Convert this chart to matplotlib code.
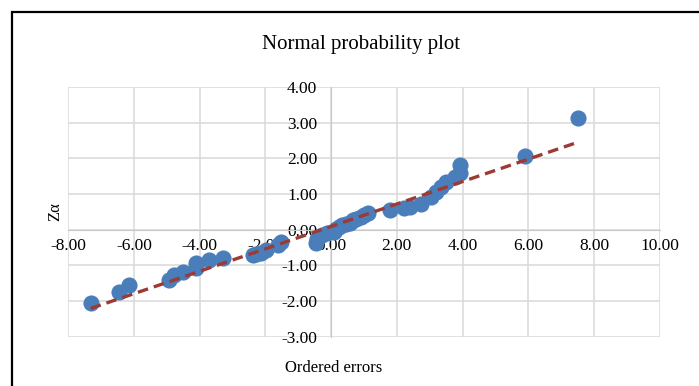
import matplotlib.pyplot as plt
from matplotlib.patches import Rectangle

plt.rcParams['font.family'] = ['Liberation Serif', 'DejaVu Serif']
plt.rcParams['axes.unicode_minus'] = False

# Ordered errors (x) vs. normal quantile Z-alpha (y)
ordered_errors = [-7.32, -6.46, -6.15, -4.93, -4.78, -4.52, -4.12, -4.10, -3.71, -3.30,
                  -2.39, -2.30, -2.13, -1.98, -1.63, -1.52, -0.46, -0.42, -0.27, -0.12,
                  0.10, 0.15, 0.25, 0.34, 0.45, 0.56, 0.66, 0.76, 0.91, 1.00,
                  1.12, 1.78, 2.23, 2.39, 2.74, 3.05, 3.20, 3.35, 3.51, 3.76,
                  3.91, 3.93, 5.91, 7.52]
z_alpha = [-2.07, -1.76, -1.55, -1.41, -1.28, -1.18, -1.08, -0.93, -0.86, -0.79,
           -0.72, -0.68, -0.64, -0.57, -0.43, -0.35, -0.37, -0.26, -0.15, -0.10,
           -0.06, 0.03, 0.08, 0.12, 0.16, 0.20, 0.26, 0.31, 0.37, 0.42,
           0.47, 0.54, 0.61, 0.65, 0.73, 0.92, 1.06, 1.20, 1.34, 1.49,
           1.60, 1.81, 2.08, 3.14]

# linear trendline end points
trend_x = [-7.32, 7.52]
trend_y = [-2.21, 2.46]

x_ticks = [-8, -6, -4, -2, 0, 2, 4, 6, 8, 10]
y_ticks = [-3, -2, -1, 0, 1, 2, 3, 4]

fig = plt.figure(figsize=(6.99, 3.86), dpi=100)
ax = fig.add_axes([0.0977, 0.128, 0.8461, 0.646])

ax.scatter(ordered_errors, z_alpha, s=135, color='#4a7ebb', zorder=3, linewidths=0)
ax.plot(trend_x, trend_y, color='#9c3a36', lw=2.4, linestyle=(0, (3.2, 1.8)), zorder=4)

ax.set_xlim(-8, 10)
ax.set_ylim(-3, 4)
ax.set_xticks(x_ticks)
ax.set_yticks(y_ticks)
ax.set_xticklabels([f'{v:.2f}' for v in x_ticks])
ax.set_yticklabels([f'{v:.2f}' for v in y_ticks])
ax.grid(True, color='#d9d9d9', lw=1.1, zorder=0)
ax.set_axisbelow(True)

for side in ['top', 'right']:
    ax.spines[side].set_visible(False)
ax.spines['bottom'].set_position(('data', 0))
ax.spines['left'].set_position(('data', 0))
ax.spines['bottom'].set_color('#c8c8c8')
ax.spines['left'].set_color('#c8c8c8')
ax.tick_params(axis='both', length=0, labelsize=12.5)
ax.tick_params(axis='x', pad=6)
ax.tick_params(axis='y', pad=10)

fig.text(0.517, 0.885, 'Normal probability plot', ha='center', va='center', fontsize=15)
fig.text(0.477, 0.047, 'Ordered errors', ha='center', va='center', fontsize=12)
fig.text(0.079, 0.451, 'Zα', ha='center', va='center', rotation=90, fontsize=12)

# outer chart border (runs off the right and bottom edges)
fig.patches.append(Rectangle((11.7 / 699, -0.2), 1.2, 1.2 - 11.7 / 386, transform=fig.transFigure,
                             fill=False, edgecolor='black', lw=1.6, clip_on=False))

fig.savefig('out.png', dpi=100)
